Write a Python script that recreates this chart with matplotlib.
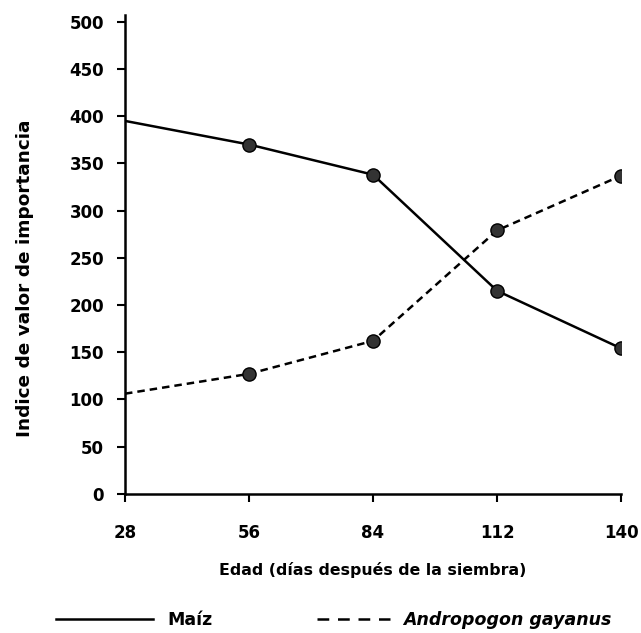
import matplotlib
matplotlib.use('Agg')
import matplotlib.pyplot as plt

plt.rcParams['font.family'] = ['DejaVu Sans']
plt.rcParams['font.weight'] = 'bold'
plt.rcParams['axes.labelweight'] = 'bold'

# data
dias = [28, 56, 84, 112, 140]
maiz = [395, 370, 338, 215, 154]
andropogon = [106, 127, 162, 279, 337]
yticks = [0, 50, 100, 150, 200, 250, 300, 350, 400, 450, 500]

fig = plt.figure(figsize=(6.41, 6.33), dpi=100)
ax = fig.add_axes([0.195, 0.220, 0.774, 0.756])

ax.plot(dias, maiz, color='black', lw=1.8, marker='o', markevery=[1, 2, 3, 4],
        markersize=9.5, markerfacecolor='#333333', markeredgecolor='black',
        label='Maíz')
ax.plot(dias, andropogon, color='black', lw=1.8, dashes=(3, 2), marker='o',
        markevery=[1, 2, 3, 4], markersize=9.5, markerfacecolor='#333333',
        markeredgecolor='black', label='Andropogon gayanus')

ax.set_xlim(28, 140)
ax.set_ylim(0, 507)
ax.set_xticks(dias)
ax.set_yticks(yticks)

for s in ['top', 'right']:
    ax.spines[s].set_visible(False)
for s in ['left', 'bottom']:
    ax.spines[s].set_linewidth(1.8)

ax.tick_params(axis='both', direction='out', width=1.5, labelsize=12)
ax.tick_params(axis='y', length=6, pad=9)
ax.tick_params(axis='x', length=6, pad=16)

ax.set_xlabel('Edad (días después de la siembra)', fontsize=11.3)
ax.xaxis.set_label_coords(0.5, -0.142)
ax.set_ylabel('Indice de valor de importancia', fontsize=13.3)
ax.yaxis.set_label_coords(-0.183, 0.451)

leg = fig.legend(loc='center', bbox_to_anchor=(0.521, 0.021), ncol=2,
                 frameon=False, fontsize=12.5, handlelength=5.6,
                 columnspacing=4.6, handletextpad=0.8, borderpad=0)
for line in leg.get_lines():
    line.set_marker('')
# legend dashes are longer than in the plot, with a blank start
leg.get_lines()[1].set_linestyle((32.8, (4.7, 3.5, 4.7, 3.5, 4.7, 3.5, 4.7, 13.5)))
leg.get_texts()[1].set_style('italic')

fig.savefig('out.png', dpi=100)
